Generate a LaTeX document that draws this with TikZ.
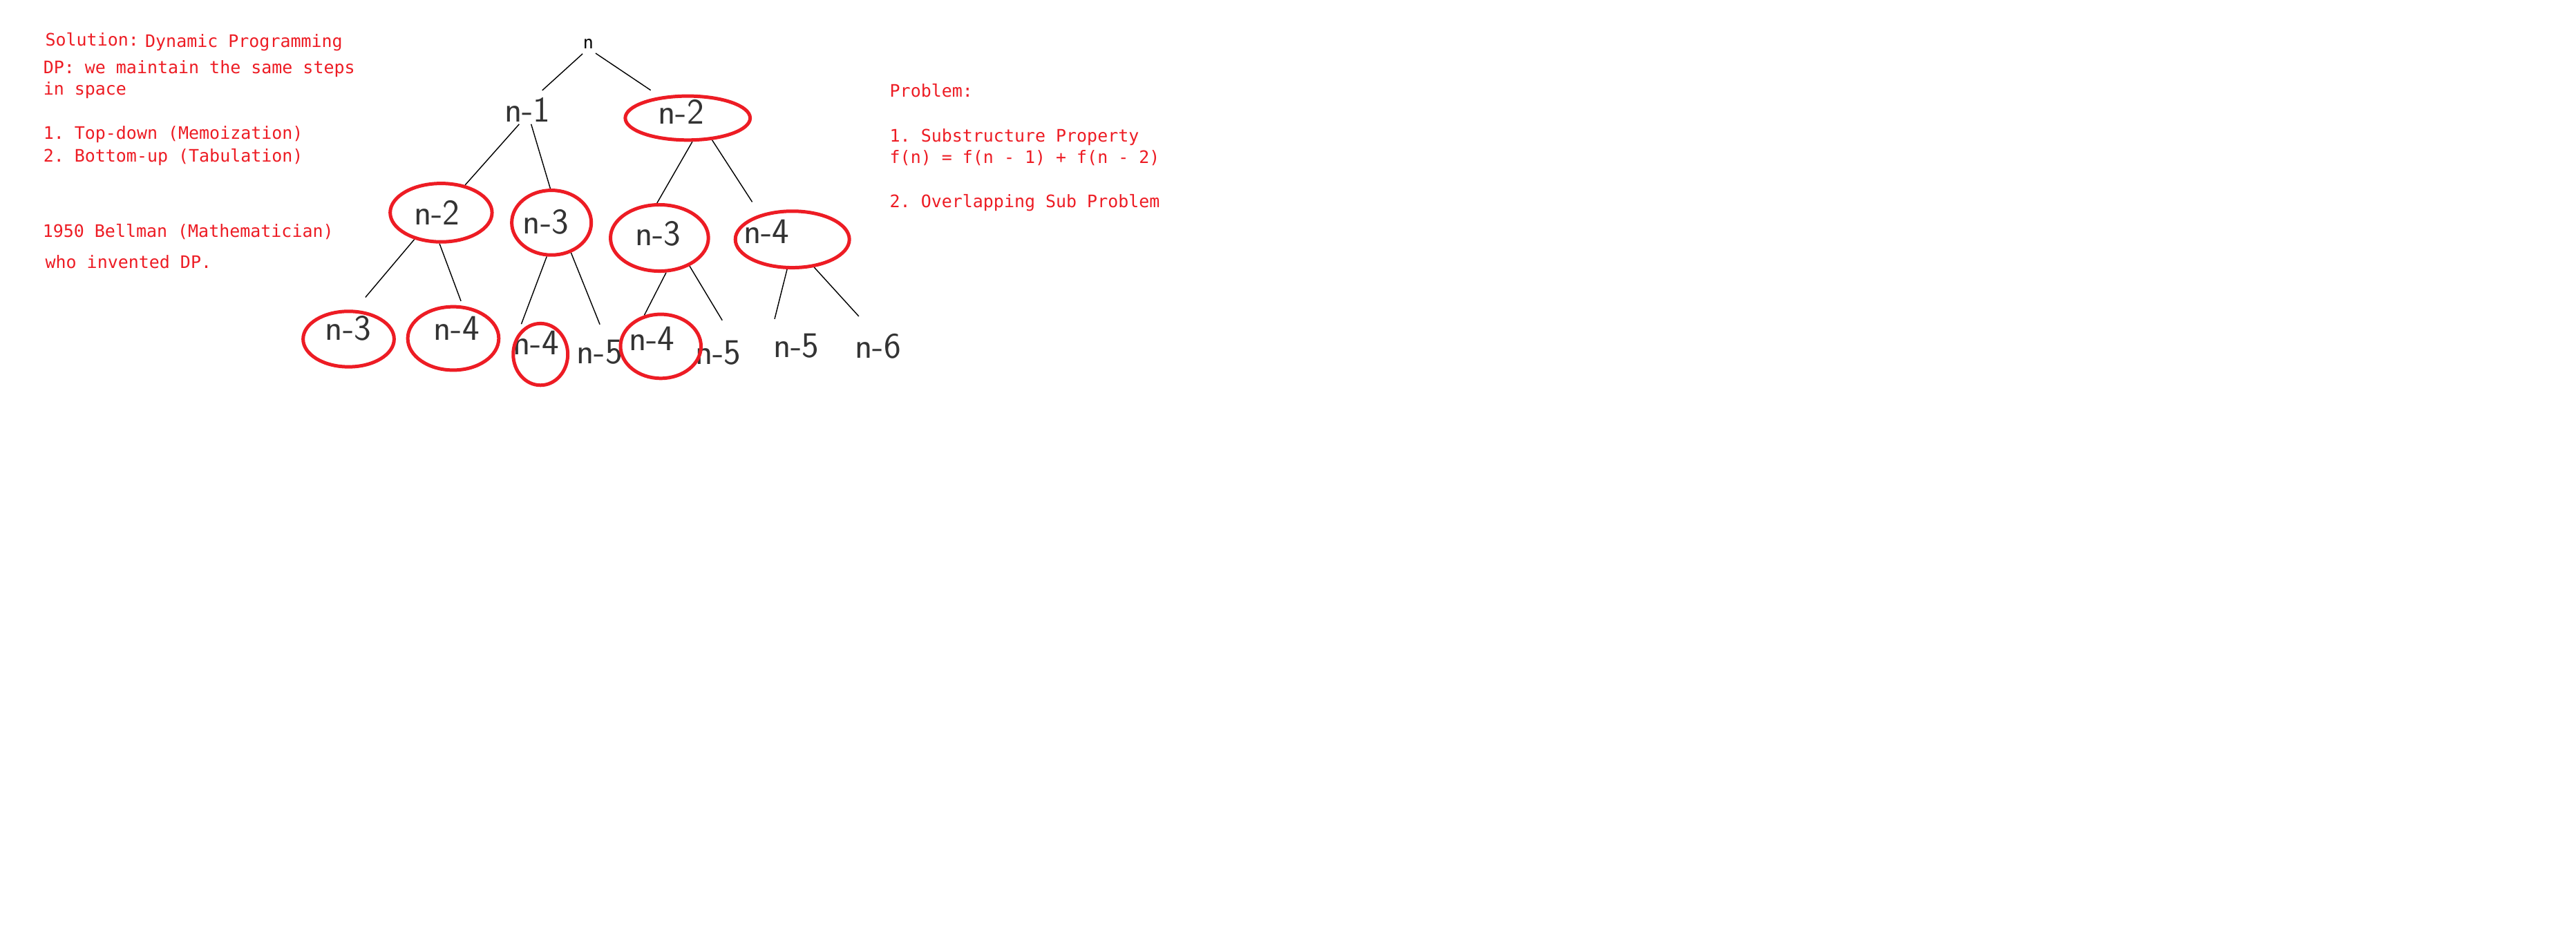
\documentclass[tikz,border=0pt]{standalone}
\usepackage{fontspec}
\setmonofont{DejaVu Sans Mono}
\usetikzlibrary{shapes.geometric,backgrounds}
\definecolor{DPred}{RGB}{237,28,36}
\tikzset{
  note/.style={anchor=base west,inner sep=0pt,text=DPred,
               font=\ttfamily\fontsize{10.5}{12}\selectfont},
  hand/.style={inner sep=1pt,text=black!80,font=\sffamily\fontsize{22}{22}\selectfont},
  ring/.style={ellipse,draw=DPred,line width=2.1pt,inner sep=0pt},
  br/.style={draw=black,line width=0.6pt}
}

\begin{document}
\frenchspacing
\begin{tikzpicture}[x=1pt,y=-1pt]
  \useasboundingbox (0,0) rectangle (1568,579);
  % notes, left
  \node[note] (sol) at (27.4,28) {Solution:};
  \node[note] (dyn) at (88.2,28.6) {Dynamic Programming};
  \node[note] (dp1) at (26.2,44.6) {DP: we maintain the same steps};
  \node[note] (dp2) at (26.2,57.8) {in space};
  \node[note] (td) at (26.2,84.8) {1. Top-down (Memoization)};
  \node[note] (bu) at (26.2,98.6) {2. Bottom-up (Tabulation)};
  \node[note] (bell) at (25.8,144.4) {1950 Bellman (Mathematician)};
  \node[note] (who) at (27.4,163.3) {who invented DP.};
  % notes, right
  \node[note] (prob) at (541.4,59.3) {Problem:};
  \node[note] (sub) at (541.4,86.6) {1. Substructure Property};
  \node[note] (rec) at (541.4,99.5) {f(n) = f(n - 1) + f(n - 2)};
  \node[note] (ovl) at (541.4,126.5) {2. Overlapping Sub Problem};

  % call tree
  \node[inner sep=1pt,font=\ttfamily\fontsize{10.5}{12}\selectfont] (top) at (358.1,26.6) {n};
  \node[hand] (l1a) at (321,67) {n-1};
  \node[hand] (l1b) at (414.5,68.3) {n-2};
  \node[hand] (l2a) at (265.9,129.3) {n-2};
  \node[hand] (l2b) at (332.3,135.3) {n-3};
  \node[hand] (l2c) at (400.5,142.3) {n-3};
  \node[hand] (l2d) at (466.5,140.9) {n-4};
  \node[hand] (l3a) at (212,200) {n-3};
  \node[hand] (l3b) at (277.8,199.8) {n-4};
  \node[hand] (l3c) at (326.3,208.9) {n-4};
  \node[hand] (l3d) at (365,214.5) {n-5};
  \node[hand] (l3e) at (396.8,206.4) {n-4};
  \node[hand] (l3f) at (437.1,214.8) {n-5};
  \node[hand] (l3g) at (484.7,210.6) {n-5};
  \node[hand] (l3h) at (534.5,211) {n-6};

  % repeated subproblems
  \node[ring,minimum width=76pt,minimum height=26.8pt] (o1b) at (418.6,71.9) {};
  \node[ring,minimum width=62pt,minimum height=35.6pt] (o2a) at (268.5,129.5) {};
  \node[ring,minimum width=48.4pt,minimum height=39.4pt] (o2b) at (335.7,135.6) {};
  \node[ring,minimum width=59.6pt,minimum height=40.4pt] (o2c) at (401.4,144.9) {};
  \node[ring,minimum width=69.4pt,minimum height=34.4pt] (o2d) at (482.3,145.8) {};
  \node[ring,minimum width=55.4pt,minimum height=33.8pt] (o3a) at (212.2,206.5) {};
  \node[ring,minimum width=55.4pt,minimum height=38.6pt] (o3b) at (275.9,206.1) {};
  \node[ring,minimum width=33.2pt,minimum height=37.6pt] (o3c) at (329,215.8) {};
  \node[ring,minimum width=49pt,minimum height=39pt] (o3e) at (402.2,210.9) {};

  \begin{scope}[on background layer]
    \fill[white] (0,0) rectangle (1568,579);
    \draw[br,shorten <=3pt,shorten >=5pt] (top.253) -- (l1a.58);
    \draw[br,shorten <=3pt,shorten >=7pt] (top.295) -- (o1b.142);
    \draw[br] (l1a.240) -- (o2a.49);
    \draw[br] (l1a.285) -- (o2b.92);
    \draw[br] (o1b.281) -- (o2c.94);
    \draw[br,shorten >=9pt] (o1b.318) -- (o2d.142);
    \draw[br,shorten >=10pt] (o2a.225) -- (o3a.78);
    \draw[br,shorten >=3pt] (o2a.267) -- (o3b.74);
    \draw[br,shorten >=7pt] (o2b.262) -- (o3c.140);
    \draw[br,shorten >=9pt] (o2b.303) -- (l3d.68);
    \draw[br] (o2c.281) -- (o3e.118);
    \draw[br,shorten >=13pt] (o2c.317) -- (l3f.43);
    \draw[br,shorten >=8pt] (o2d.260) -- (l3g.north west);
    \draw[br,shorten >=13pt] (o2d.308) -- (l3h.109);
  \end{scope}
\end{tikzpicture}
\end{document}
